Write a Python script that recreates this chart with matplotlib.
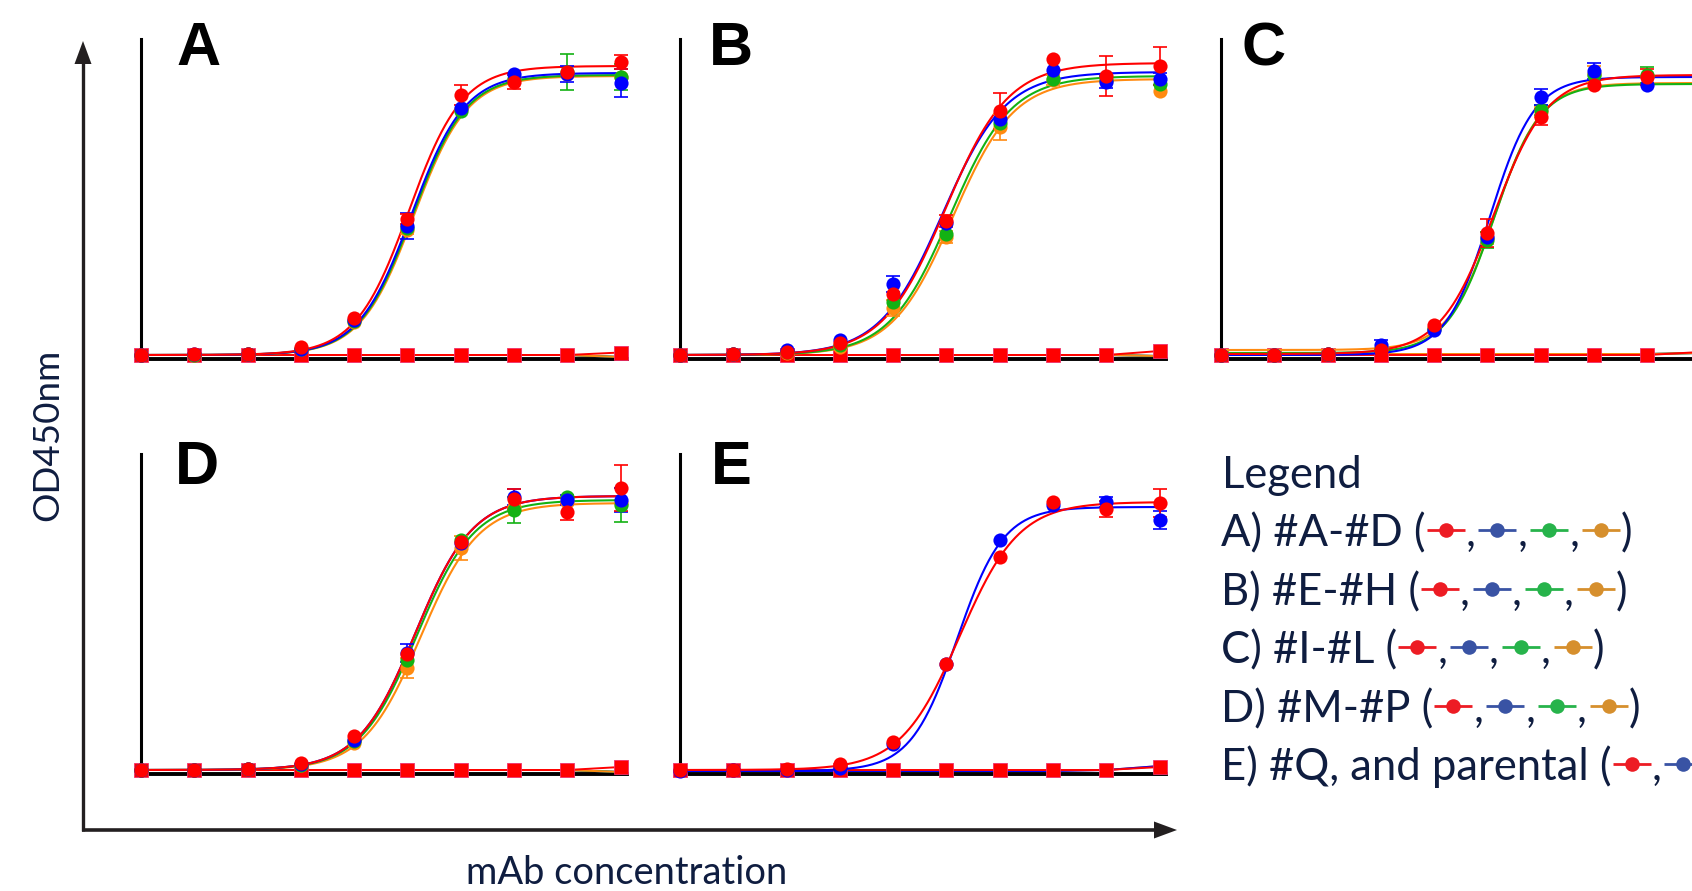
import numpy as np
import matplotlib
matplotlib.use("Agg")
import matplotlib.pyplot as plt
from matplotlib.patches import Polygon

W, H, DPI = 1692, 891, 100

# ---------------- data (OD450 vs dilution step index) ----------------
steps = list(range(10))
series_colors = ["#ff0000", "#0000ff", "#13b213", "#ff8a10"]  # red, blue, green, orange

# Panel A
A_red = [0.04, 0.05, 0.05, 0.12, 0.41, 1.40, 2.64, 2.77, 2.87, 2.97]
A_blue = [0.04, 0.05, 0.05, 0.10, 0.39, 1.33, 2.51, 2.85, 2.85, 2.76]
A_green = [0.04, 0.04, 0.05, 0.10, 0.38, 1.31, 2.48, 2.80, 2.87, 2.82]
A_orange = [0.04, 0.04, 0.05, 0.10, 0.37, 1.29, 2.50, 2.80, 2.85, 2.82]
A_red_err = [0, 0, 0, 0, 0, 0.05, 0.10, 0.07, 0, 0.07]
A_blue_err = [0, 0, 0, 0, 0, 0.13, 0, 0, 0.08, 0.14]
A_green_err = [0, 0, 0, 0, 0, 0, 0, 0, 0.18, 0.13]
A_orange_err = [0, 0, 0, 0, 0, 0.04, 0, 0, 0, 0]
A_fit_bottom = [0.04, 0.04, 0.04, 0.04]
A_fit_top = [2.93, 2.86, 2.84, 2.83]
A_fit_ec50 = [5.03, 5.08, 5.10, 5.12]
A_fit_hill = [2.0, 2.0, 2.0, 2.0]
A_neg = [0.04, 0.04, 0.04, 0.04, 0.04, 0.04, 0.04, 0.04, 0.04, 0.065]
A_neg_other = [0.04, 0.04, 0.04, 0.04, 0.04, 0.04, 0.04, 0.04, 0.04, 0.02]

# Panel B
B_red = [0.04, 0.05, 0.07, 0.16, 0.65, 1.38, 2.48, 3.00, 2.83, 2.93]
B_blue = [0.04, 0.05, 0.09, 0.19, 0.75, 1.36, 2.40, 2.89, 2.77, 2.80]
B_green = [0.04, 0.05, 0.07, 0.14, 0.57, 1.25, 2.36, 2.80, 2.79, 2.75]
B_orange = [0.04, 0.05, 0.06, 0.12, 0.51, 1.22, 2.32, 2.79, 2.79, 2.68]
B_red_err = [0, 0, 0, 0, 0, 0.06, 0.18, 0, 0.20, 0.19]
B_blue_err = [0, 0, 0, 0, 0.08, 0, 0, 0, 0.06, 0.06]
B_green_err = [0, 0, 0, 0, 0, 0, 0, 0, 0, 0]
B_orange_err = [0, 0, 0, 0, 0.08, 0.06, 0.13, 0.05, 0, 0]
B_fit_bottom = [0.04, 0.04, 0.04, 0.04]
B_fit_top = [2.96, 2.87, 2.83, 2.80]
B_fit_ec50 = [4.98, 4.93, 5.07, 5.12]
B_fit_hill = [1.7, 1.7, 1.75, 1.75]
B_neg = [0.04, 0.04, 0.04, 0.04, 0.04, 0.04, 0.04, 0.04, 0.04, 0.08]
B_neg_other = [0.04, 0.04, 0.04, 0.04, 0.04, 0.04, 0.04, 0.04, 0.04, 0.03]

# Panel C
C_red = [0.04, 0.04, 0.05, 0.09, 0.34, 1.26, 2.42, 2.74, 2.82, 2.84]
C_blue = [0.04, 0.04, 0.05, 0.14, 0.29, 1.22, 2.62, 2.88, 2.74, 2.80]
C_green = [0.04, 0.04, 0.05, 0.10, 0.30, 1.19, 2.49, 2.84, 2.84, 2.76]
C_orange = [0.04, 0.04, 0.05, 0.10, 0.31, 1.21, 2.47, 2.85, 2.83, 2.77]
C_red_err = [0, 0, 0, 0, 0, 0.14, 0.08, 0, 0.08, 0]
C_blue_err = [0, 0, 0, 0.05, 0, 0, 0.08, 0.08, 0, 0]
C_green_err = [0, 0, 0, 0, 0, 0.08, 0.05, 0, 0.08, 0]
C_orange_err = [0, 0, 0, 0, 0, 0.06, 0.05, 0.08, 0, 0]
C_fit_bottom = [0.05, 0.04, 0.06, 0.09]
C_fit_top = [2.84, 2.82, 2.75, 2.76]
C_fit_ec50 = [5.12, 5.05, 5.12, 5.13]
C_fit_hill = [2.0, 2.4, 2.3, 2.3]
C_neg = [0.04, 0.04, 0.04, 0.04, 0.04, 0.04, 0.04, 0.04, 0.04, 0.07]
C_neg_other = [0.05, 0.05, 0.05, 0.05, 0.05, 0.05, 0.05, 0.05, 0.05, 0.06]

# Panel D
D_red = [0.04, 0.04, 0.05, 0.11, 0.38, 1.20, 2.32, 2.75, 2.62, 2.86]
D_blue = [0.04, 0.04, 0.05, 0.10, 0.34, 1.21, 2.31, 2.77, 2.74, 2.74]
D_green = [0.04, 0.04, 0.05, 0.09, 0.33, 1.14, 2.34, 2.64, 2.77, 2.69]
D_orange = [0.04, 0.04, 0.05, 0.09, 0.31, 1.06, 2.26, 2.67, 2.72, 2.71]
D_red_err = [0, 0, 0, 0, 0, 0, 0, 0.10, 0.08, 0.23]
D_blue_err = [0, 0, 0, 0, 0, 0.09, 0, 0.08, 0.05, 0.12]
D_green_err = [0, 0, 0, 0, 0, 0, 0, 0.13, 0, 0.17]
D_orange_err = [0, 0, 0, 0, 0, 0.10, 0.12, 0, 0, 0]
D_fit_bottom = [0.04, 0.04, 0.04, 0.04]
D_fit_top = [2.78, 2.78, 2.74, 2.71]
D_fit_ec50 = [5.15, 5.15, 5.18, 5.25]
D_fit_hill = [1.85, 1.85, 1.85, 1.85]
D_neg = [0.04, 0.04, 0.04, 0.04, 0.04, 0.04, 0.04, 0.04, 0.04, 0.07]
D_neg_other = [0.04, 0.04, 0.04, 0.04, 0.04, 0.04, 0.04, 0.04, 0.04, 0.02]

# Panel E (#Q red, parental blue)
E_red = [0.04, 0.04, 0.05, 0.10, 0.32, 1.10, 2.17, 2.72, 2.65, 2.71]
E_blue = [0.03, 0.04, 0.04, 0.06, 0.30, 1.10, 2.34, 2.69, 2.72, 2.54]
E_red_err = [0, 0, 0, 0, 0, 0, 0, 0, 0.08, 0.14]
E_blue_err = [0, 0, 0, 0, 0, 0, 0, 0, 0.05, 0.09]
E_fit_bottom = [0.04, 0.03]
E_fit_top = [2.72, 2.67]
E_fit_ec50 = [5.25, 5.20]
E_fit_hill = [1.8, 2.3]
E_neg = [0.04, 0.04, 0.04, 0.04, 0.04, 0.04, 0.04, 0.04, 0.04, 0.07]
E_neg_other = [0.03, 0.03, 0.03, 0.03, 0.03, 0.03, 0.03, 0.03, 0.04, 0.08]

panel_letters = ["A", "B", "C", "D", "E"]
legend_labels = ["A) #A-#D (", "B) #E-#H (", "C) #I-#L (", "D) #M-#P (", "E) #Q, and parental ("]
legend_colors = ["#ed1c24", "#3953a4", "#27b34b", "#d68f2d"]
legend_counts = [4, 4, 4, 4, 2]

# ---------------- layout ----------------
NAVY = "#0f1d40"
AXC = "#231f20"

panels = [
    dict(letter="A", left=141, bottom=359, ys=[A_red, A_blue, A_green, A_orange],
         errs=[A_red_err, A_blue_err, A_green_err, A_orange_err],
         fit=(A_fit_bottom, A_fit_top, A_fit_ec50, A_fit_hill), neg=A_neg, neg_other=A_neg_other),
    dict(letter="B", left=680, bottom=359, ys=[B_red, B_blue, B_green, B_orange],
         errs=[B_red_err, B_blue_err, B_green_err, B_orange_err],
         fit=(B_fit_bottom, B_fit_top, B_fit_ec50, B_fit_hill), neg=B_neg, neg_other=B_neg_other),
    dict(letter="C", left=1221, bottom=359, ys=[C_red, C_blue, C_green, C_orange],
         errs=[C_red_err, C_blue_err, C_green_err, C_orange_err],
         fit=(C_fit_bottom, C_fit_top, C_fit_ec50, C_fit_hill), neg=C_neg, neg_other=C_neg_other),
    dict(letter="D", left=141, bottom=774, ys=[D_red, D_blue, D_green, D_orange],
         errs=[D_red_err, D_blue_err, D_green_err, D_orange_err],
         fit=(D_fit_bottom, D_fit_top, D_fit_ec50, D_fit_hill), neg=D_neg, neg_other=D_neg_other),
    dict(letter="E", left=680, bottom=774, ys=[E_red, E_blue],
         errs=[E_red_err, E_blue_err],
         fit=(E_fit_bottom, E_fit_top, E_fit_ec50, E_fit_hill), neg=E_neg, neg_other=E_neg_other),
]
letter_pos = {"A": (176, 65), "B": (709, 65), "C": (1242, 65), "D": (175, 484), "E": (711, 484)}

fig = plt.figure(figsize=(W / DPI, H / DPI), dpi=DPI)
ov = fig.add_axes([0, 0, 1, 1], zorder=0)
ov.set_xlim(0, W)
ov.set_ylim(H, 0)
ov.axis("off")
ov.patch.set_visible(False)
renderer = fig.canvas.get_renderer()

PW, PH = 486, 320


def logistic(x, b, t, x0, k):
    return b + (t - b) / (1.0 + np.exp(-k * (x - x0)))


xs_fine = np.linspace(0, 9, 400)
for p in panels:
    ax = fig.add_axes([p["left"] / W, (H - p["bottom"]) / H, PW / W, PH / H], zorder=2)
    ax.set_xlim(0, 9.12)
    ax.set_ylim(0, 3.2)
    ax.patch.set_visible(False)
    for s in ["top", "right"]:
        ax.spines[s].set_visible(False)
    ax.spines["left"].set_linewidth(2.2)
    ax.spines["bottom"].set_linewidth(2.8)
    ax.spines["left"].set_color("black")
    ax.spines["bottom"].set_color("black")
    ax.set_xticks([])
    ax.set_yticks([])
    n = len(p["ys"])
    order = list(range(n))[::-1]
    neg_cols = [1, 2, 3] if n == 4 else [3, 1]
    # negative controls
    for ci in neg_cols:
        ax.plot(steps, p["neg_other"], "-", color=series_colors[ci], lw=1.4, zorder=3, clip_on=False)
    ax.plot(steps, p["neg"], "-", color=series_colors[0], lw=1.4, zorder=3.1, clip_on=False)
    ax.plot(steps, p["neg"], "s", color=series_colors[0], ms=9.8, mec="#f0306a", mew=0.6,
            zorder=4, clip_on=False)
    # fitted curves
    fb, ft, fe, fh = p["fit"]
    for i in order:
        ax.plot(xs_fine, logistic(xs_fine, fb[i], ft[i], fe[i], fh[i]), "-",
                color=series_colors[i], lw=1.5, zorder=5, clip_on=False)
    # error bars and points
    for i in order:
        y = np.array(p["ys"][i])
        e = np.array(p["errs"][i])
        m = e > 0
        if m.any():
            ax.errorbar(np.array(steps)[m], y[m], yerr=e[m], fmt="none", ecolor=series_colors[i],
                        elinewidth=1.2, capsize=4.7, capthick=1.2, zorder=5.5, clip_on=False)
    for i in order:
        ax.plot(steps, p["ys"][i], "o", color=series_colors[i], ms=10.2, mew=0,
                zorder=6 + 0.1 * (n - i), clip_on=False)

# panel letters
for L in panel_letters:
    x, y = letter_pos[L]
    ov.text(x, y, L, family="Liberation Sans", weight="bold", fontsize=44, color="black",
            va="baseline", ha="left")

# outer axes arrows
ov.plot([83, 83], [831, 62], color=AXC, lw=2.4, solid_capstyle="butt")
ov.plot([82, 1156], [830, 830], color=AXC, lw=2.6, solid_capstyle="butt")
ov.add_patch(Polygon([[83, 41], [74.5, 64], [91.5, 64]], closed=True, color=AXC, lw=0))
ov.add_patch(Polygon([[1177, 830], [1154, 821.5], [1154, 838.5]], closed=True, color=AXC, lw=0))


def fit_width(t, target, horizontal=True):
    bb = t.get_window_extent(renderer)
    size = bb.width if horizontal else bb.height
    t.set_fontsize(t.get_fontsize() * target / size)


# axis labels
yl = ov.text(48, 435, "OD450nm", family="Lato", fontsize=26, color=NAVY, rotation=90,
             ha="center", va="center")
fit_width(yl, 172, horizontal=False)

xl = ov.text(627, 884, "mAb concentration", family="Lato", fontsize=26, color=NAVY,
             ha="center", va="baseline")
fit_width(xl, 321)

# legend
title = ov.text(1222, 488, "Legend", family="Lato", fontsize=30, color=NAVY, va="baseline", ha="left")
fit_width(title, 140)
fs = title.get_fontsize()
row_base = [546, 605, 663, 722, 780]
for lab, cnt, yb in zip(legend_labels, legend_counts, row_base):
    t = ov.text(1221, yb, lab, family="Lato", fontsize=fs, color=NAVY, va="baseline", ha="left")
    x = t.get_window_extent(renderer).x1 + 1
    ym = yb - 16
    for j in range(cnt):
        ov.plot([x, x + 38], [ym, ym], color=legend_colors[j], lw=2.0, solid_capstyle="butt")
        ov.plot([x + 19], [ym], "o", color=legend_colors[j], ms=10.5, mew=0)
        x += 38
        if j < cnt - 1:
            c = ov.text(x + 1, yb, ",", family="Lato", fontsize=fs, color=NAVY, va="baseline", ha="left")
            x = c.get_window_extent(renderer).x1 + 3
    ov.text(x + 1, yb, ")", family="Lato", fontsize=fs, color=NAVY, va="baseline", ha="left")

fig.savefig("out.png", dpi=DPI)
